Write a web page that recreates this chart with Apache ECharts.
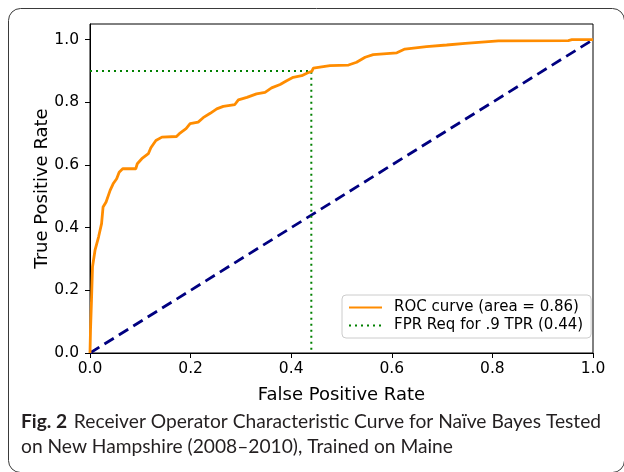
<!DOCTYPE html>
<html>
<head>
<meta charset="utf-8">
<script src="https://cdn.jsdelivr.net/npm/echarts@6/dist/echarts.min.js"></script>
<style>
html,body{margin:0;padding:0;background:#fff;}
#chart{width:624px;height:472px;}
</style>
</head>
<body>
<div id="chart"></div>
<script>
// ---- data ----
const rocFpr = [0, 0.001, 0.003, 0.005, 0.010, 0.017, 0.023, 0.026, 0.032, 0.040, 0.046, 0.053, 0.058, 0.065, 0.091, 0.094, 0.103, 0.116, 0.121, 0.131, 0.143, 0.172, 0.179, 0.191, 0.199, 0.215, 0.225, 0.239, 0.252, 0.265, 0.288, 0.295, 0.312, 0.331, 0.348, 0.361, 0.378, 0.391, 0.404, 0.421, 0.431, 0.441, 0.444, 0.477, 0.514, 0.530, 0.547, 0.563, 0.610, 0.626, 0.669, 0.709, 0.746, 0.749, 0.812, 0.951, 0.958, 1.0];
const rocTpr = [0, 0.073, 0.169, 0.275, 0.328, 0.370, 0.413, 0.466, 0.482, 0.519, 0.540, 0.556, 0.577, 0.588, 0.588, 0.604, 0.620, 0.636, 0.655, 0.678, 0.689, 0.691, 0.702, 0.716, 0.732, 0.737, 0.751, 0.765, 0.779, 0.787, 0.793, 0.808, 0.816, 0.827, 0.832, 0.846, 0.857, 0.869, 0.880, 0.885, 0.893, 0.899, 0.909, 0.917, 0.919, 0.928, 0.944, 0.952, 0.958, 0.970, 0.978, 0.983, 0.988, 0.994, 0.996, 0.997, 1.0, 1.0];
const chanceFpr = [0, 1];
const chanceTpr = [0, 1];
const reqFpr = 0.44;
const reqTpr = 0.9;
const rocLabel = 'ROC curve (area = 0.86)';
const reqLabel = 'FPR Req for .9 TPR (0.44)';
const tickValues = [0, 0.2, 0.4, 0.6, 0.8, 1.0];
const xTitle = 'False Positive Rate';
const yTitle = 'True Positive Rate';
const captionBold = 'Fig. 2';
const captionLine1 = 'Receiver Operator Characteristic Curve for Naïve Bayes Tested';
const captionLine2 = 'on New Hampshire (2008–2010), Trained on Maine';

const chart = echarts.init(document.getElementById('chart'), null, {renderer: 'canvas'});
const font = 'DejaVu Sans';
const axisCommon = {
  axisLine: {show: true, onZero: false, lineStyle: {color: '#000', width: 1}},
  axisTick: {show: true, inside: false, length: 5, lineStyle: {color: '#000', width: 1}, customValues: tickValues},
  axisLabel: {color: '#000', fontFamily: font, fontSize: 15.5, customValues: tickValues, formatter: v => v.toFixed(1)},
  splitLine: {show: false},
  nameTextStyle: {color: '#000', fontFamily: font, fontSize: 18},
  nameLocation: 'middle',
  nameMoveOverlap: false
};
const option = {
  animation: false,
  backgroundColor: '#fff',
  grid: {left: 90, top: 24, right: 31, bottom: 119, show: true, borderColor: '#000', borderWidth: 1, backgroundColor: 'transparent'},
  xAxis: Object.assign({}, axisCommon, {type: 'value', min: 0, max: 1, name: xTitle, nameGap: 33,
    axisLabel: Object.assign({}, axisCommon.axisLabel, {margin: 8})}),
  yAxis: Object.assign({}, axisCommon, {type: 'value', min: 0, max: 1.05, name: yTitle, nameGap: 39,
    axisLabel: Object.assign({}, axisCommon.axisLabel, {margin: 11})}),
  legend: {
    orient: 'vertical', left: 342, top: 295,
    padding: [5, 8, 5, 6], itemGap: 3, itemWidth: 33, itemHeight: 17,
    borderColor: '#cccccc', borderWidth: 1, borderRadius: 4, backgroundColor: 'rgba(255,255,255,0.8)',
    itemStyle: {opacity: 0},
    textStyle: {fontFamily: font, fontSize: 15, color: '#000', padding: [0, 0, 0, 7]},
    data: [rocLabel, reqLabel]
  },
  series: [
    {name: rocLabel, type: 'line', showSymbol: false, symbol: 'none', z: 3,
     data: rocFpr.map((x, i) => [x, rocTpr[i]]),
     lineStyle: {color: '#ff8c00', width: 2.8}, itemStyle: {color: '#ff8c00'}},
    {name: 'chance', type: 'line', showSymbol: false, symbol: 'none', z: 2,
     data: chanceFpr.map((x, i) => [x, chanceTpr[i]]),
     lineStyle: {color: '#000080', width: 2.8, type: [11, 6]}, itemStyle: {color: '#000080'}},
    {name: reqLabel, type: 'line', showSymbol: false, symbol: 'none', z: 2,
     data: [[0, reqTpr], [reqFpr, reqTpr], [reqFpr, 0]],
     lineStyle: {color: '#008000', width: 2, type: [2, 4]}, itemStyle: {color: '#008000'}}
  ],
  graphic: [
    {type: 'rect', left: 6, top: 6, shape: {width: 616, height: 464, r: 12}, silent: true,
     style: {fill: 'none', stroke: '#3a3a3a', lineWidth: 1}, z: -1},
    {type: 'text', left: 21, top: 412,
     style: {
       text: '{b|' + captionBold + '}  {n|' + captionLine1 + '}\n{n|' + captionLine2 + '}',
       rich: {
         b: {fontFamily: 'Lato', fontWeight: 'bold', fontSize: 19.2, fill: '#231f20', lineHeight: 25},
         n: {fontFamily: 'Lato', fontWeight: 'normal', fontSize: 19.2, fill: '#231f20', lineHeight: 25}
       }
     }}
  ]
};
chart.setOption(option);
</script>
</body>
</html>
